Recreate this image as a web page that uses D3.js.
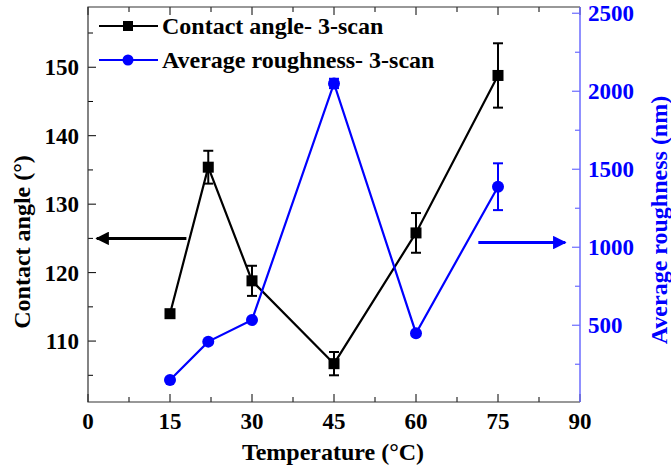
<!DOCTYPE html>
<html>
<head>
  <script src="https://cdnjs.cloudflare.com/ajax/libs/d3/7.8.5/d3.min.js" type="text/javascript"></script>
  <style>
    body { margin: 0; background: #fff; }
    svg text { font-family: "Liberation Serif", "Times New Roman", serif; font-weight: bold; }
  </style>
</head>
<body>
  <svg id="chart" width="671" height="467"></svg>
  <script>

// data
var temps = [15, 22, 30, 45, 60, 75];
var contactAngle = [114.0, 135.4, 118.8, 106.7, 125.8, 148.8];
var contactErr = [0, 2.4, 2.2, 1.7, 2.9, 4.7];
var roughness = [149, 395, 534, 2050, 449, 1388];
var roughErr = [0, 0, 0, 30, 0, 150];

var xTicks = [0, 15, 30, 45, 60, 75, 90];
var leftTicks = [110, 120, 130, 140, 150];
var rightTicks = [500, 1000, 1500, 2000, 2500];

var legendLabels = ["Contact angle- 3-scan", "Average roughness- 3-scan"];

var box = { l: 88, r: 580, t: 7, b: 402 };
var blue = "#0000ff", axisBlue = "#6b6bff";

var svg = d3.select("#chart");

var x = d3.scaleLinear().domain([0, 90]).range([box.l, box.r]);
var yL = d3.scaleLinear().domain([101.1, 158.8]).range([box.b, box.t]);
var yR = d3.scaleLinear().domain([8, 2540]).range([box.b, box.t]);

function minorTicks(step, lo, hi) {
  var out = [];
  for (var v = lo; v <= hi + 1e-9; v += step) out.push(v);
  return out;
}

// bottom + top axes
var xMinor = minorTicks(15, 7.5, 82.5);
var g = svg.append("g").attr("stroke", "#000").attr("stroke-width", 1);
xTicks.forEach(function(v) {
  g.append("line").attr("x1", x(v)).attr("x2", x(v)).attr("y1", box.b).attr("y2", box.b - 8);
  g.append("line").attr("x1", x(v)).attr("x2", x(v)).attr("y1", box.t).attr("y2", box.t + 8);
});
xMinor.forEach(function(v) {
  g.append("line").attr("x1", x(v)).attr("x2", x(v)).attr("y1", box.b).attr("y2", box.b - 5);
  g.append("line").attr("x1", x(v)).attr("x2", x(v)).attr("y1", box.t).attr("y2", box.t + 5);
});

// left axis ticks
leftTicks.forEach(function(v) {
  g.append("line").attr("x1", box.l).attr("x2", box.l + 8).attr("y1", yL(v)).attr("y2", yL(v));
});
minorTicks(10, 105, 155).forEach(function(v) {
  g.append("line").attr("x1", box.l).attr("x2", box.l + 5).attr("y1", yL(v)).attr("y2", yL(v));
});

// right axis ticks
var gr = svg.append("g").attr("stroke", axisBlue).attr("stroke-width", 1.2);
rightTicks.forEach(function(v) {
  gr.append("line").attr("x1", box.r).attr("x2", box.r - 8).attr("y1", yR(v)).attr("y2", yR(v));
});
minorTicks(500, 250, 2250).forEach(function(v) {
  gr.append("line").attr("x1", box.r).attr("x2", box.r - 5).attr("y1", yR(v)).attr("y2", yR(v));
});

// frame
svg.append("path")
  .attr("d", "M" + box.r + "," + box.t + "H" + box.l + "V" + box.b + "H" + box.r)
  .attr("fill", "none").attr("stroke", "#333").attr("stroke-width", 1.2);
svg.append("line").attr("x1", box.r).attr("x2", box.r).attr("y1", box.t).attr("y2", box.b)
  .attr("stroke", axisBlue).attr("stroke-width", 1.5);

// tick labels
svg.selectAll(".xl").data(xTicks).enter().append("text")
  .attr("x", function(d) { return x(d); }).attr("y", 429)
  .attr("text-anchor", "middle").attr("font-size", 23).text(function(d) { return d; });
svg.selectAll(".yl").data(leftTicks).enter().append("text")
  .attr("x", 79).attr("y", function(d) { return yL(d) + 8; })
  .attr("text-anchor", "end").attr("font-size", 23).text(function(d) { return d; });
svg.selectAll(".yr").data(rightTicks).enter().append("text")
  .attr("x", 588).attr("y", function(d) { return yR(d) + 8; })
  .attr("fill", blue).attr("font-size", 23).text(function(d) { return d; });

// axis titles
svg.append("text").attr("x", 333).attr("y", 460).attr("text-anchor", "middle")
  .attr("font-size", 24).text("Temperature (°C)");
svg.append("text").attr("transform", "translate(30,242) rotate(-90)").attr("text-anchor", "middle")
  .attr("font-size", 24).text("Contact angle (°)");
svg.append("text").attr("transform", "translate(667,220) rotate(-90)").attr("text-anchor", "middle")
  .attr("font-size", 24).attr("fill", blue).text("Average roughness (nm)");

// annotation arrows
var defs = svg.append("defs");
[["ahk", "#000"], ["ahb", blue]].forEach(function(m) {
  defs.append("marker").attr("id", m[0]).attr("viewBox", "0 0 10 10")
    .attr("refX", 9).attr("refY", 5).attr("markerWidth", 6).attr("markerHeight", 4.5)
    .attr("orient", "auto").attr("markerUnits", "strokeWidth")
    .append("path").attr("d", "M0,0L10,5L0,10z").attr("fill", m[1]);
});
svg.append("line").attr("x1", x(18)).attr("x2", x(1.6)).attr("y1", yL(125)).attr("y2", yL(125))
  .attr("stroke", "#000").attr("stroke-width", 3).attr("marker-end", "url(#ahk)");
svg.append("line").attr("x1", x(71.4)).attr("x2", x(87.3)).attr("y1", yR(1030)).attr("y2", yR(1030))
  .attr("stroke", blue).attr("stroke-width", 3).attr("marker-end", "url(#ahb)");

// series
var ca = temps.map(function(t, i) { return { t: t, v: contactAngle[i], e: contactErr[i] }; });
var ro = temps.map(function(t, i) { return { t: t, v: roughness[i], e: roughErr[i] }; });

function drawSeries(data, y, color, shape) {
  var line = d3.line().x(function(d) { return x(d.t); }).y(function(d) { return y(d.v); });
  svg.append("path").datum(data).attr("d", line)
    .attr("fill", "none").attr("stroke", color).attr("stroke-width", 2.2);

  var eb = svg.append("g").attr("stroke", color).attr("stroke-width", 2);
  data.filter(function(d) { return d.e > 0; }).forEach(function(d) {
    var cx = x(d.t);
    eb.append("line").attr("x1", cx).attr("x2", cx).attr("y1", y(d.v - d.e)).attr("y2", y(d.v + d.e));
    eb.append("line").attr("x1", cx - 5).attr("x2", cx + 5).attr("y1", y(d.v - d.e)).attr("y2", y(d.v - d.e));
    eb.append("line").attr("x1", cx - 5).attr("x2", cx + 5).attr("y1", y(d.v + d.e)).attr("y2", y(d.v + d.e));
  });

  if (shape === "square") {
    svg.selectAll(null).data(data).enter().append("rect")
      .attr("x", function(d) { return x(d.t) - 5.5; }).attr("y", function(d) { return y(d.v) - 5.5; })
      .attr("width", 11).attr("height", 11).attr("fill", color);
  } else {
    svg.selectAll(null).data(data).enter().append("circle")
      .attr("cx", function(d) { return x(d.t); }).attr("cy", function(d) { return y(d.v); })
      .attr("r", 6).attr("fill", color);
  }
}

drawSeries(ca, yL, "#000", "square");
drawSeries(ro, yR, blue, "circle");

// legend
var leg = svg.append("g");
legendLabels.forEach(function(lbl, i) {
  var ly = 26 + i * 34;
  var c = i === 0 ? "#000" : blue;
  leg.append("line").attr("x1", 99).attr("x2", 158).attr("y1", ly).attr("y2", ly)
    .attr("stroke", c).attr("stroke-width", 2.2);
  if (i === 0) {
    leg.append("rect").attr("x", 123).attr("y", ly - 5).attr("width", 10).attr("height", 10).attr("fill", c);
  } else {
    leg.append("circle").attr("cx", 128).attr("cy", ly).attr("r", 5.5).attr("fill", c);
  }
  leg.append("text").attr("x", 162).attr("y", ly + 8).attr("font-size", 24).text(lbl);
});
  </script>
</body>
</html>
